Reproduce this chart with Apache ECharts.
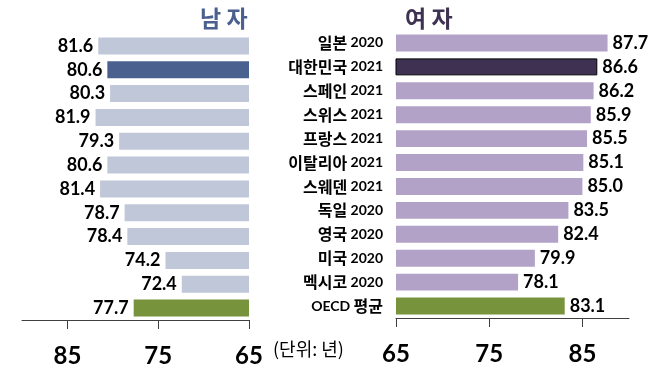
<!DOCTYPE html>
<html><head><meta charset="utf-8">
<script src="https://cdn.jsdelivr.net/npm/echarts@6/dist/echarts.min.js"></script>
<style>html,body{margin:0;padding:0;background:#fff}#c{width:658px;height:374px}</style>
</head><body><div id="c"></div>
<script>
var countries = ['일본', '대한민국', '스페인', '스위스', '프랑스', '이탈리아', '스웨덴', '독일', '영국', '미국', '멕시코', 'OECD'];
var years = ['2020', '2021', '2021', '2021', '2021', '2021', '2021', '2020', '2020', '2020', '2020', '평균'];
var male = [81.6, 80.6, 80.3, 81.9, 79.3, 80.6, 81.4, 78.7, 78.4, 74.2, 72.4, 77.7];
var female = [87.7, 86.6, 86.2, 85.9, 85.5, 85.1, 85.0, 83.5, 82.4, 79.9, 78.1, 83.1];
var tickValues = [65, 75, 85];

var cats = countries.map(function (c, i) { return c + '|' + years[i]; });
var numFont = 'Lato, "Liberation Sans", sans-serif';
var krFont = '"Noto Sans CJK KR", sans-serif';

function maleColor(i) { return i === 1 ? '#4a6190' : (i === 11 ? '#77933c' : '#c0c7d8'); }
function femColor(i) { return i === 1 ? '#3f3152' : (i === 11 ? '#77933c' : '#b3a2c8'); }

function axisCommon(idx) {
  return {
    type: 'value', gridIndex: idx, min: 65, max: 90, splitLine: { show: false },
    axisLine: { show: true, lineStyle: { color: '#404040', width: 1 } },
    axisTick: { show: true, length: 9, inside: false, lineStyle: { color: '#404040' }, customValues: tickValues },
    axisLabel: { customValues: tickValues, margin: 24, fontSize: 24, fontWeight: 'bold', color: '#000', fontFamily: numFont }
  };
}

var labelStyle = { fontSize: 18, fontWeight: 'bold', color: '#000', fontFamily: numFont };
function part(s) { return /[\uac00-\ud7a3]/.test(s) ? '{a|' + s + '}' : '{b|' + s + '}'; }

var option = {
  animation: false,
  graphic: [
    { type: 'text', left: 200, top: 7, style: { text: '남 자', font: 'bold 23px ' + krFont, fill: '#4a6190' } },
    { type: 'text', left: 405, top: 7, style: { text: '여 자', font: 'bold 23px ' + krFont, fill: '#3f3152' } },
    { type: 'text', left: 273, top: 340, style: { text: '(단위: 년)', font: '18px ' + krFont, fill: '#000' } }
  ],
  grid: [
    { left: 22, width: 227, top: 34, bottom: 54 },
    { left: 396, width: 233, top: 31, bottom: 56 }
  ],
  xAxis: [
    Object.assign(axisCommon(0), { inverse: true }),
    axisCommon(1)
  ],
  yAxis: [
    { type: 'category', gridIndex: 0, data: cats, inverse: true, show: false },
    { type: 'category', gridIndex: 1, data: cats, inverse: true,
      axisLine: { show: false }, axisTick: { show: false },
      axisLabel: {
        margin: 13,
        formatter: function (v) { var p = v.split('|'); return part(p[0]) + ' ' + part(p[1]); },
        rich: {
          a: { fontSize: 16, fontWeight: 'bold', color: '#000', fontFamily: krFont },
          b: { fontSize: 14, fontWeight: 'bold', color: '#000', fontFamily: numFont }
        }
      }
    }
  ],
  series: [
    { type: 'bar', xAxisIndex: 0, yAxisIndex: 0, barCategoryGap: '29%',
      data: male.map(function (v, i) { return { value: v, itemStyle: { color: maleColor(i) } }; }),
      label: Object.assign({ show: true, position: 'left', distance: 5, formatter: function (p) { return p.value.toFixed(1); } }, labelStyle)
    },
    { type: 'bar', xAxisIndex: 1, yAxisIndex: 1, barCategoryGap: '29%',
      data: female.map(function (v, i) { return { value: v, itemStyle: { color: femColor(i), borderColor: i === 1 ? '#000' : 'transparent', borderWidth: i === 1 ? 1 : 0 } }; }),
      label: Object.assign({ show: true, position: 'right', distance: 5, formatter: function (p) { return p.value.toFixed(1); } }, labelStyle)
    }
  ]
};
echarts.init(document.getElementById('c')).setOption(option);
</script></body></html>
